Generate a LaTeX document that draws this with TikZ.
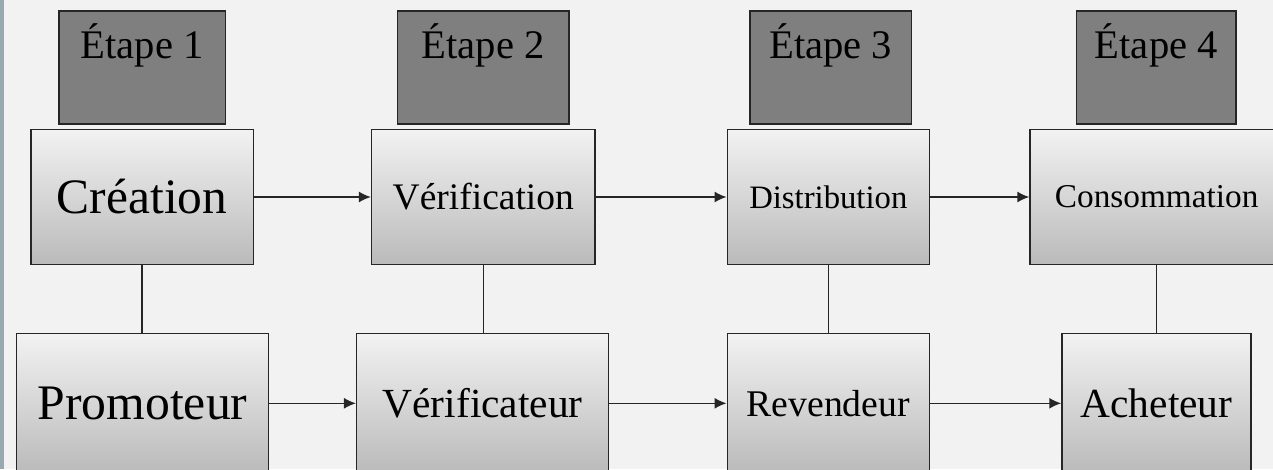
\documentclass[tikz,border=0pt]{standalone}
\usepackage{fontspec}
\setmainfont{Liberation Serif}
\usetikzlibrary{arrows.meta}
\definecolor{bggray}{HTML}{F2F2F2}
\definecolor{stagegray}{HTML}{7F7F7F}
\definecolor{stripblue}{HTML}{97A9B1}
\definecolor{boxtop}{HTML}{F2F2F2}
\definecolor{boxbottom}{HTML}{BABABA}
\newcommand{\fsz}[1]{\fontsize{#1}{#1}\selectfont}
\begin{document}
\begin{tikzpicture}[x=1pt, y=-1pt, >={Latex[length=12pt,width=11pt]},
  stagebox/.style = {shape=rectangle, draw=black!85, fill=stagegray, line width=1.5pt,
    inner sep=0pt, minimum height=113pt, text height=47pt, text depth=66pt, font=\fsz{40.6}},
  gradbox/.style = {shape=rectangle, draw=black!85, line width=1.5pt, inner sep=0pt,
    top color=boxtop, bottom color=boxbottom},
  toprow/.style = {gradbox, minimum height=135.4pt},
  botrow/.style = {gradbox, minimum height=140pt},
  link/.style = {draw=black!85, line width=1.5pt}]
  \useasboundingbox (0,0) rectangle (1273,469);
  \clip (0,0) rectangle (1273,469);
  \fill[bggray] (0,0) rectangle (1273,469);
  \fill[stripblue] (0,0) rectangle (4,469);

  \node[stagebox, minimum width=166.7pt] (etape1) at (142.3,67.5) {Étape 1};
  \node[stagebox, minimum width=171.3pt] (etape2) at (483.3,67.5) {Étape 2};
  \node[stagebox, minimum width=161.7pt] (etape3) at (830.8,67.5) {Étape 3};
  \node[stagebox, minimum width=159.3pt] (etape4) at (1156.3,67.5) {Étape 4};

  \node[toprow, minimum width=222.3pt, font=\fsz{49.5}] (creation) at (142.2,197) {Création};
  \node[toprow, minimum width=223.3pt, font=\fsz{37.5}] (verification) at (483.3,197) {Vérification};
  \node[toprow, minimum width=202pt, font=\fsz{32.7}] (distribution) at (828.3,197) {Distribution};
  \node[toprow, minimum width=253.3pt, font=\fsz{33.3}] (consommation) at (1156.7,197) {Consommation};

  \node[botrow, minimum width=252.3pt, font=\fsz{49.7}] (promoteur) at (142.5,403.3) {Promoteur};
  \node[botrow, minimum width=252pt, font=\fsz{41.4}] (verificateur) at (482.7,403.3) {Vérificateur};
  \node[botrow, minimum width=202pt, font=\fsz{37.7}] (revendeur) at (828.3,403.3) {Revendeur};
  \node[botrow, minimum width=189pt, font=\fsz{41.4}] (acheteur) at (1156.5,403.3) {Acheteur};

  \draw[link, ->] (creation) -- (verification);
  \draw[link, ->] (verification) -- (distribution);
  \draw[link, ->] (distribution) -- (consommation);
  \draw[link, ->] (promoteur) -- (verificateur);
  \draw[link, ->] (verificateur) -- (revendeur);
  \draw[link, ->] (revendeur) -- (acheteur);

  \draw[link] (creation.south) -- (creation.south |- promoteur.north);
  \draw[link] (verification.south) -- (verification.south |- verificateur.north);
  \draw[link] (distribution.south) -- (distribution.south |- revendeur.north);
  \draw[link] (consommation.south) -- (consommation.south |- acheteur.north);
\end{tikzpicture}
\end{document}
